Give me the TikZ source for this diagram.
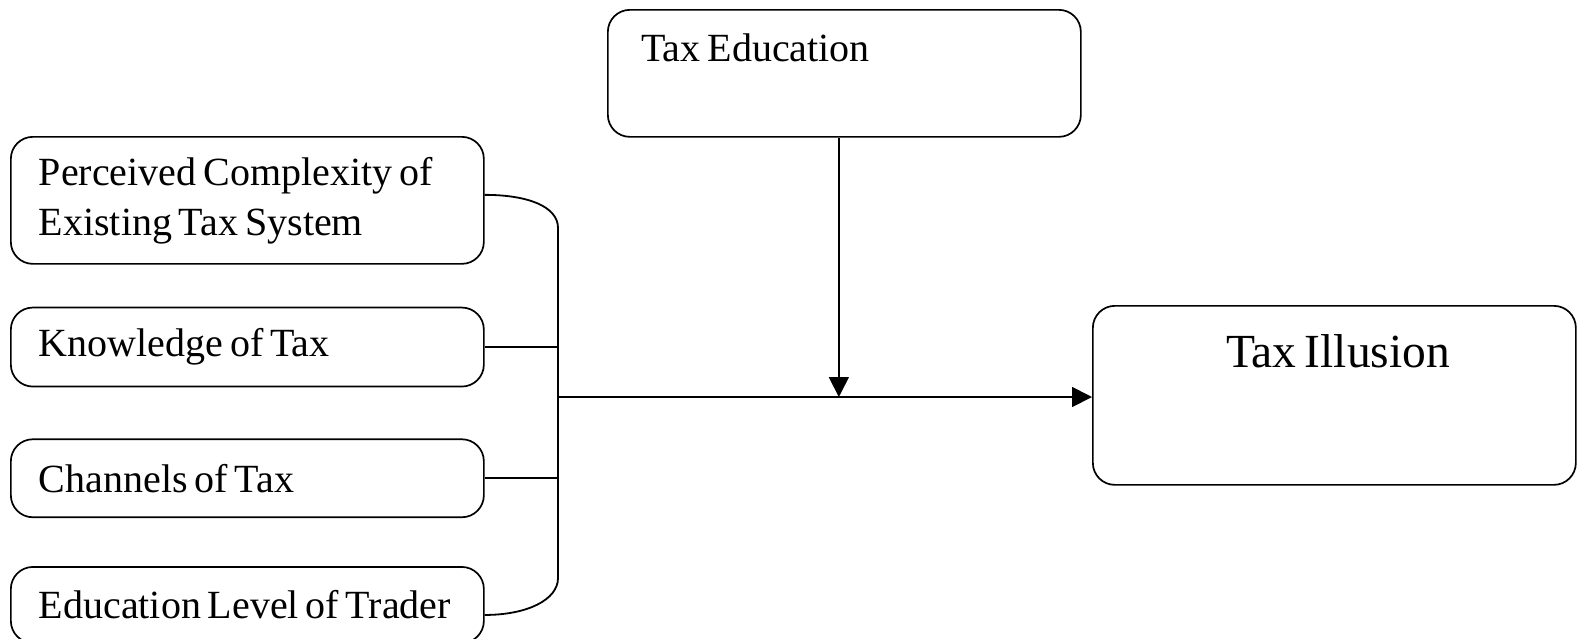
\documentclass[tikz,border=0pt]{standalone}
\usepackage{fontspec}
\setmainfont{Liberation Serif}[WordSpace=0.7]
\usetikzlibrary{arrows.meta,positioning}
\begin{document}
\begin{tikzpicture}[x=1pt,y=-1pt,>={Triangle[length=20pt,width=20pt]}]
        \tikzset{block/.style={draw, rectangle, rounded corners=22pt, line width=1.7pt, align=left, text width=417pt, inner xsep=28pt, inner ysep=0pt, minimum height=78pt, font=\fontsize{40}{50}\selectfont,
            execute at begin node={\spaceskip=0.17em plus 0.05em\relax}},
        frame/.style={draw, rectangle, rounded corners=22pt, line width=1.7pt, anchor=north west, inner sep=0pt},
        label/.style={font=\fontsize{40}{50}\selectfont, inner sep=0pt},
        wire/.style={draw, line width=1.8pt},
        }
        \useasboundingbox (0,0) rectangle (1581,638);
        \node [block, anchor=north west, minimum height=127pt] (pcx) at (10,136) {Perceived Complexity of\\Existing Tax System};
        \node [block, below =42pt of pcx, minimum height=79pt] (knw) {Knowledge of Tax};
        \node [block, below =51pt of knw] (chn) {Channels of Tax};
        \node [block, below =48pt of chn, minimum height=76pt] (edl) {Education Level of Trader};
        \node [frame, minimum width=473pt, minimum height=127pt] (edu) at (607,9) {};
        \node [label, anchor=base west] (edutxt) at (641,61) {Tax Education};
        \node [frame, minimum width=483pt, minimum height=179pt] (ill) at (1092,305) {};
        \node [label, anchor=base, font=\fontsize{47.5}{56}\selectfont] (illtxt) at (1338,367) {Tax Illusion};
        \coordinate (sptop) at (558,228);  %% top of the joining line
        \coordinate (spbot) at (558,578);  %% bottom of the joining line
        \coordinate (jn) at (558,397);     %% start of the main arrow

%% paths
        \draw[wire] ([yshift=5.5pt]pcx.east) .. controls +(42,0) and +(0,-22) .. (sptop)
                    -- (spbot) .. controls +(0,22) and +(42,0) .. ([yshift=-10pt]edl.east);
        \draw[wire] (knw.east) -- (knw.east -| sptop);
        \draw[wire] (chn.east) -- (chn.east -| sptop);
        \draw[wire,->] (jn) -- (jn -| ill.west);
        \draw[wire,->] ([xshift=-5.5pt]edu.south) -- ([xshift=-5.5pt]edu.south |- jn);
    \end{tikzpicture}
\end{document}
